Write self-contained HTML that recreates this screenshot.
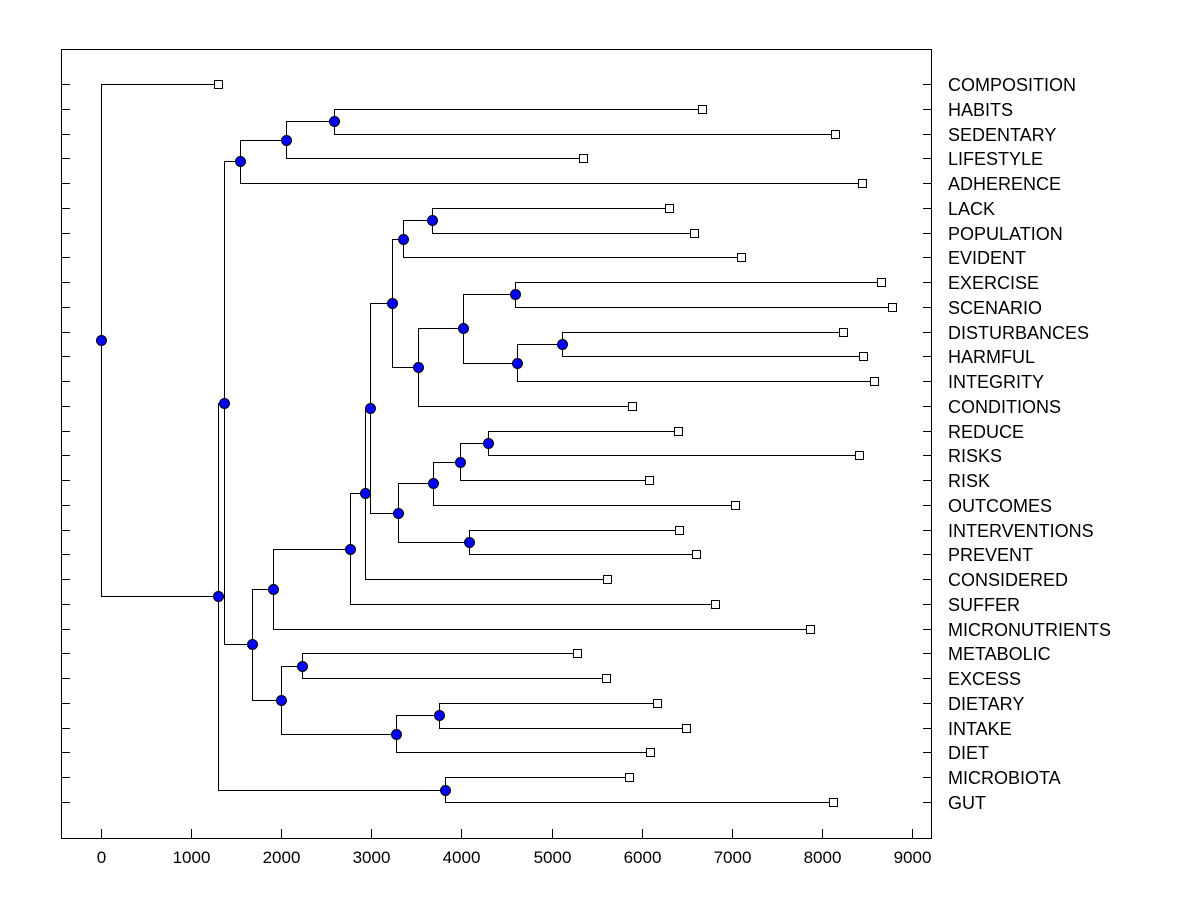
<!DOCTYPE html>
<html><head><meta charset="utf-8"><style>
html,body{margin:0;padding:0;background:#fff;}
svg{display:block;font-family:"Liberation Sans",Arial,sans-serif;}
</style></head><body>
<svg id="chart" width="1200" height="900" viewBox="0 0 1200 900"></svg>
<script>
const leafNames = ["COMPOSITION","HABITS","SEDENTARY","LIFESTYLE","ADHERENCE","LACK","POPULATION","EVIDENT","EXERCISE","SCENARIO","DISTURBANCES","HARMFUL","INTEGRITY","CONDITIONS","REDUCE","RISKS","RISK","OUTCOMES","INTERVENTIONS","PREVENT","CONSIDERED","SUFFER","MICRONUTRIENTS","METABOLIC","EXCESS","DIETARY","INTAKE","DIET","MICROBIOTA","GUT"];
const leafValues = [1299,6670,8146,5350,8446,6304,6582,7103,8657,8779,8235,8457,8579,5893,6404,8413,6082,7037,6415,6604,5616,6815,7869,5283,5605,6171,6493,6093,5860,8124];
// merges: [childA, childB, height]; leaves = "L<index>", internal = "N<index>"
const merges = [
 ["L1","L2",2586],   //N0
 ["N0","L3",2053],   //N1
 ["N1","L4",1543],   //N2
 ["L5","L6",3674],   //N3
 ["N3","L7",3352],   //N4
 ["L8","L9",4595],   //N5
 ["L10","L11",5117], //N6
 ["N6","L12",4617],  //N7
 ["N5","N7",4018],   //N8
 ["N8","L13",3518],  //N9
 ["N4","N9",3230],   //N10
 ["L14","L15",4295], //N11
 ["N11","L16",3984], //N12
 ["N12","L17",3685], //N13
 ["L18","L19",4084], //N14
 ["N13","N14",3296], //N15
 ["N10","N15",2986], //N16
 ["N16","L20",2930], //N17
 ["N17","L21",2764], //N18
 ["N18","L22",1909], //N19
 ["L23","L24",2231], //N20
 ["L25","L26",3751], //N21
 ["N21","L27",3274], //N22
 ["N20","N22",1998], //N23
 ["N19","N23",1676], //N24
 ["N2","N24",1365],  //N25
 ["L28","L29",3818], //N26
 ["N25","N26",1299], //N27
 ["L0","N27",0]      //N28 root
];
const xTicks = [0,1000,2000,3000,4000,5000,6000,7000,8000,9000];

const NS="http://www.w3.org/2000/svg";
const svg=document.getElementById('chart');
const X0=101, PXU=(912-101)/9000;
const xs=v=>X0+v*PXU;
const Y0=84, ROW=(802-84)/29;
const ys=i=>Y0+i*ROW;
function mk(t,a,p){const e=document.createElementNS(NS,t);for(const k in a)e.setAttribute(k,a[k]);(p||svg).appendChild(e);return e;}

const frame=mk('rect',{x:61.5,y:49.5,width:870,height:789,fill:'none',stroke:'#000','stroke-width':1});



xTicks.forEach(t=>{
  const x=Math.round(xs(t))+0.5;
  const l=mk('line',{x1:x,y1:829,x2:x,y2:838,stroke:'#000'});
  
  
  const tx=mk('text',{x:x,y:863,'text-anchor':'middle','font-size':17,fill:'#000'});
  tx.textContent=t;
  
  
});
leafNames.forEach((n,i)=>{
  const y=Math.round(ys(i))+0.5;
  const a=mk('line',{x1:61,y1:y,x2:70,y2:y,stroke:'#000'});
  
  
  const b=mk('line',{x1:923,y1:y,x2:931,y2:y,stroke:'#000'});
  
  
  const t=mk('text',{x:948,y:y+6.5,'font-size':18,fill:'#000'});
  t.textContent=n;
  
  
});

const pos={};
leafNames.forEach((n,i)=>{pos['L'+i]={x:xs(leafValues[i]),y:ys(i),leaf:true};});
merges.forEach((m,i)=>{
  const a=pos[m[0]],b=pos[m[1]];
  pos['N'+i]={x:xs(m[2]),y:(a.y+b.y)/2,leaf:false};
});
const r=v=>Math.round(v)+0.5;
const lines=mk('g',{});


merges.forEach((m,i)=>{
  const n=pos['N'+i],a=pos[m[0]],b=pos[m[1]];
  const p=mk('path',{d:`M${r(a.x)},${r(a.y)}H${r(n.x)}V${r(b.y)}H${r(b.x)}`,fill:'none',stroke:'#000','stroke-width':1},lines);
  
  
});
leafNames.forEach((n,i)=>{
  const p=pos['L'+i];
  const s=mk('rect',{x:r(p.x)-4,y:r(p.y)-4,width:8,height:8,fill:'#fff',stroke:'#000'});
  
  
});
merges.forEach((m,i)=>{
  const p=pos['N'+i];
  const c=mk('circle',{cx:r(p.x),cy:r(p.y),r:5,fill:'#0000ff',stroke:'#000','stroke-width':1});
  
  
});
</script>
</body></html>
